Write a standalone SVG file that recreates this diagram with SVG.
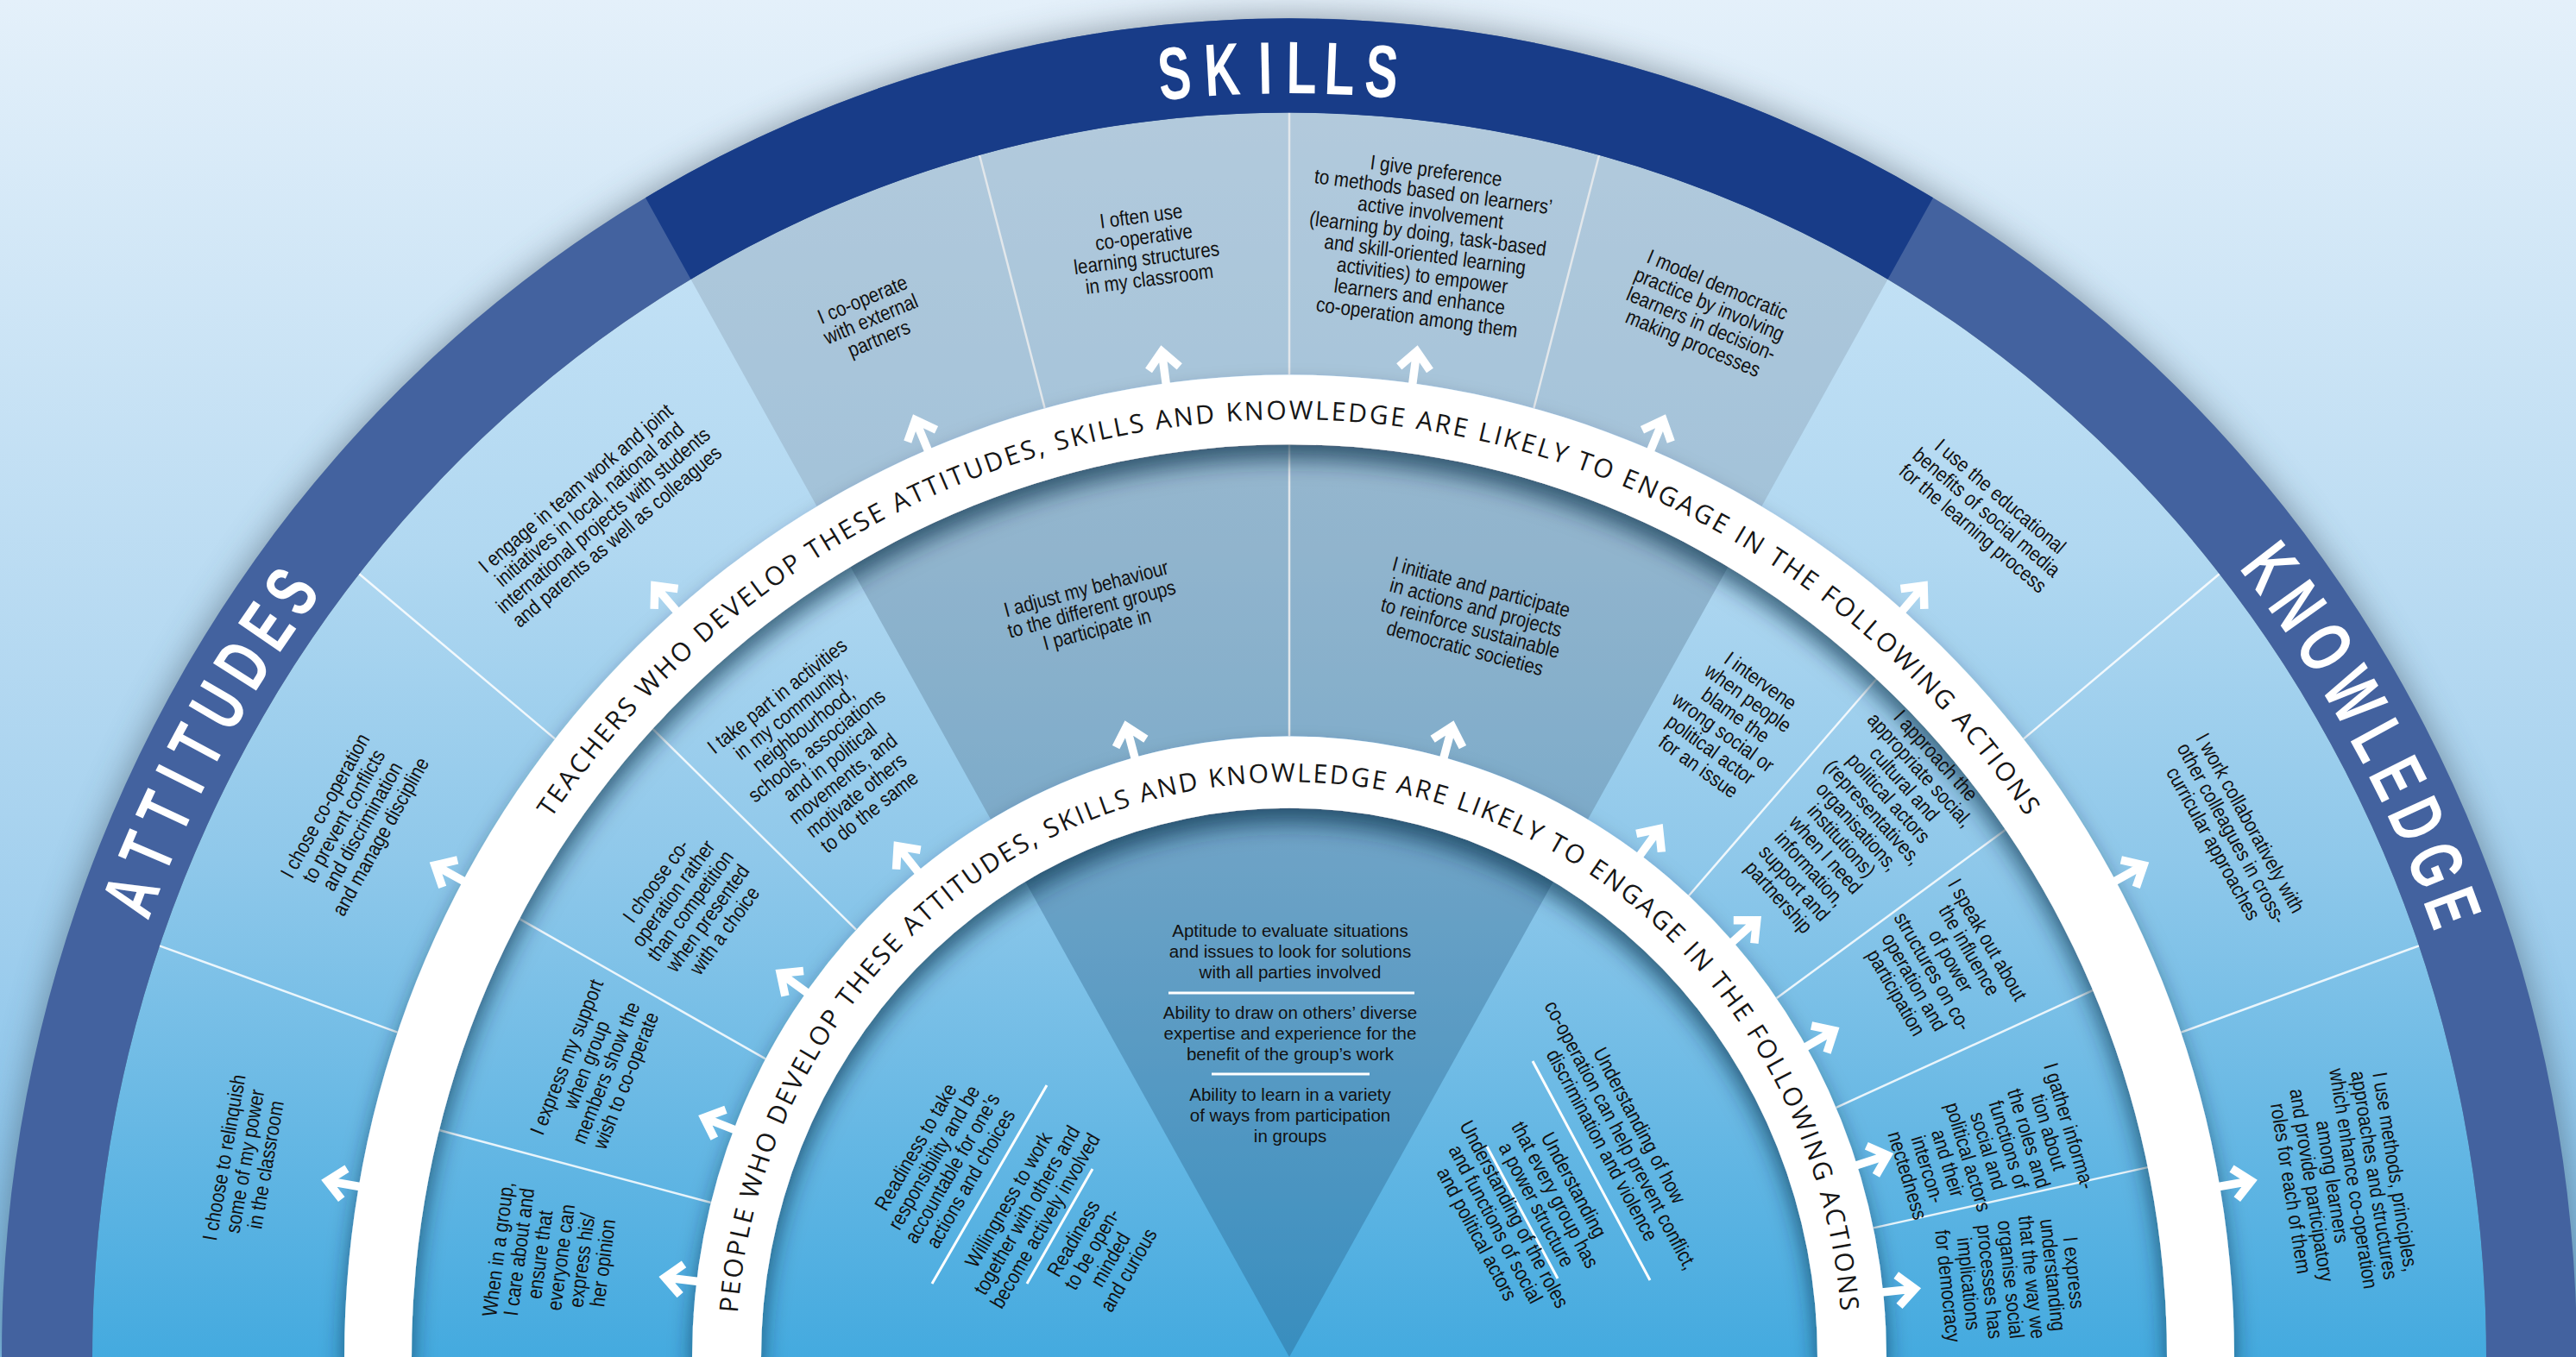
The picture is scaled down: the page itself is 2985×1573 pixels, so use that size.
<svg xmlns="http://www.w3.org/2000/svg" xmlns:xlink="http://www.w3.org/1999/xlink" width="2985" height="1573" viewBox="0 0 2985 1573">
<defs>
<style>
.t{font-family:"Liberation Sans",Arial,sans-serif;font-size:24px;fill:#111;text-anchor:middle}
.tc{font-family:"Liberation Sans",Arial,sans-serif;font-size:20.5px;fill:#111;text-anchor:middle}
.ring{font-family:"Open Sans","Liberation Sans",sans-serif;font-size:30px;fill:#161616}
.big{font-family:"Liberation Sans",Arial,sans-serif;font-size:86px;font-weight:bold;fill:#fff;text-anchor:middle}
.dl{stroke:#fff;stroke-width:2.5;stroke-opacity:.85;fill:none}
.dg{stroke:#e2e7eb;stroke-width:2.5;fill:none}
.sep{stroke:#fff;stroke-width:3;fill:none}
</style>
<linearGradient id="bg" x1="0" y1="0" x2="0" y2="1">
<stop offset="0" stop-color="#e4f0fa"/><stop offset="0.6" stop-color="#a9d3ef"/><stop offset="1" stop-color="#7cbde8"/>
</linearGradient>
<linearGradient id="base" gradientUnits="userSpaceOnUse" x1="0" y1="130" x2="0" y2="1573">
<stop offset="0" stop-color="#cbe5f7"/><stop offset="0.35" stop-color="#b1d8f1"/><stop offset="0.6" stop-color="#8fc8ea"/><stop offset="1" stop-color="#44aadf"/>
</linearGradient>
<filter id="halo" x="-5%" y="-8%" width="110%" height="116%"><feGaussianBlur stdDeviation="20"/></filter>
<filter id="ds" x="-5%" y="-10%" width="110%" height="125%">
<feGaussianBlur in="SourceAlpha" stdDeviation="13"/><feOffset dy="17" result="b"/>
<feFlood flood-color="#0b2842" flood-opacity="0.65"/><feComposite in2="b" operator="in"/>
<feMerge><feMergeNode/><feMergeNode in="SourceGraphic"/></feMerge>
</filter>
<g id="ar"><path d="M0,4 V-35 M-18,-17 L0,-37 L18,-17" fill="none" stroke="#fff" stroke-width="9.5"/></g>
<path id="p1" d="M449,1573 A1045,1086.8 0 0 1 2539,1573" fill="none"/>
<path id="p2" d="M853,1573 A641,666.6 0 0 1 2135,1573" fill="none"/>
</defs>

<rect width="2985" height="1573" fill="url(#bg)"/>
<path d="M2,1573 A1492,1551.7 0 0 1 2986,1573 Z" fill="#3e4b58" opacity="0.55" filter="url(#halo)"/>

<g id="base-fill">
<path d="M107,1573 A1387,1442.5 0 0 1 2881,1573 Z" fill="url(#base)"/>
<path d="M946.5,586.8 L800.5,323.8 A1387,1442.5 0 0 1 2187.5,323.8 L2041.5,586.8 A1095,1138.8 0 0 0 946.5,586.8 Z" fill="#7f93a4" opacity="0.32"/>
<path d="M1148,949.7 L985.5,657 A1017,1057.7 0 0 1 2002.5,657 L1840,949.7 A692,719.7 0 0 0 1148,949.7 Z" fill="#4f6b82" opacity="0.32"/>
<path d="M1494,1573 L1188,1021.8 A612,636.5 0 0 1 1800,1021.8 Z" fill="#1f4d73" opacity="0.3"/>
</g>

<g id="connectors">
<path class="dl" d="M460.5,1196.6 L184.9,1096.3 M643,856.4 L416.2,665.2 M2527.5,1196.6 L2803.1,1096.3 M2345,856.4 L2571.8,665.2"/>
<path class="dg" d="M1210.6,473 L1135,179.7 M1494,434.2 L1494,130.5 M1777.4,473 L1853,179.7 M1494,853.3 L1494,515.3"/>
<path class="dl" d="M823.7,1394 L508.9,1310 M887,1227.4 L602,1065.1 M992,1077.6 L756.3,844.9 M1957,1038.2 L2174.5,787 M2058.7,1157.1 L2324,961.8 M2127.7,1283.8 L2425.3,1147.9 M2170.9,1423.4 L2488.7,1353.1"/>
<path class="sep" d="M1354,1151 H1639 M1404,1245 H1587 M1080,1488 L1213,1258 M1190,1488 L1266,1355 M1776,1230 L1912,1484 M1723,1329 L1805,1482"/>
</g>

<g id="band">
<path d="M2,1573 A1492,1551.7 0 0 1 2986,1573 L2881,1573 A1387,1442.5 0 0 0 107,1573 Z" fill="#43629f"/>
<path d="M748,229.2 A1492,1551.7 0 0 1 2240,229.2 L2187.5,323.8 A1387,1442.5 0 0 0 800.5,323.8 Z" fill="#183c88"/>
</g>

<g id="rings" filter="url(#ds)">
<path d="M399,1573 A1095,1138.8 0 0 1 2589,1573 L2511,1573 A1017,1057.7 0 0 0 477,1573 Z" fill="#fff"/>
<path d="M802,1573 A692,719.7 0 0 1 2186,1573 L2106,1573 A612,636.5 0 0 0 882,1573 Z" fill="#fff"/>
</g>

<g id="ring-teachers"><text class="ring" letter-spacing="2.7"><textPath href="#p1" startOffset="50%" text-anchor="middle">TEACHERS WHO DEVELOP THESE ATTITUDES, SKILLS AND KNOWLEDGE ARE LIKELY TO ENGAGE IN THE FOLLOWING ACTIONS</textPath></text></g>
<g id="ring-people"><text class="ring" letter-spacing="2.4"><textPath href="#p2" startOffset="50%" text-anchor="middle">PEOPLE WHO DEVELOP THESE ATTITUDES, SKILLS AND KNOWLEDGE ARE LIKELY TO ENGAGE IN THE FOLLOWING ACTIONS</textPath></text></g>

<g id="label-skills">
<text class="big" transform="translate(1363.7,114.5) rotate(-5.3) scale(0.66,1)">S</text>
<text class="big" transform="translate(1417.7,110.4) rotate(-3.1) scale(0.66,1)">K</text>
<text class="big" transform="translate(1466.6,108.5) rotate(-1.1) scale(0.66,1)">I</text>
<text class="big" transform="translate(1507.8,108.2) rotate(0.56) scale(0.66,1)">L</text>
<text class="big" transform="translate(1551.4,109.4) rotate(2.33) scale(0.66,1)">L</text>
<text class="big" transform="translate(1598.8,112.3) rotate(4.26) scale(0.66,1)">S</text>
</g>
<g id="label-attitudes">
<text class="big" transform="translate(179,1048) rotate(-69) scale(0.68,1)">A</text>
<text class="big" transform="translate(198.1,999.2) rotate(-66.94) scale(0.68,1)">T</text>
<text class="big" transform="translate(217.7,953.7) rotate(-64.99) scale(0.68,1)">T</text>
<text class="big" transform="translate(235.1,916) rotate(-63.35) scale(0.68,1)">I</text>
<text class="big" transform="translate(253.8,878.9) rotate(-61.72) scale(0.68,1)">T</text>
<text class="big" transform="translate(278.6,833) rotate(-59.66) scale(0.68,1)">U</text>
<text class="big" transform="translate(306.1,785.9) rotate(-57.5) scale(0.68,1)">D</text>
<text class="big" transform="translate(333.6,742.9) rotate(-55.48) scale(0.68,1)">E</text>
<text class="big" transform="translate(361,703) rotate(-53.56) scale(0.68,1)">S</text>
</g>
<g id="label-knowledge">
<text class="big" transform="translate(2606.9,675.2) rotate(52.2) scale(0.68,1)">K</text>
<text class="big" transform="translate(2638.6,719.4) rotate(54.36) scale(0.68,1)">N</text>
<text class="big" transform="translate(2669.8,766.6) rotate(56.6) scale(0.68,1)">O</text>
<text class="big" transform="translate(2702.6,820.8) rotate(59.1) scale(0.68,1)">W</text>
<text class="big" transform="translate(2730.6,871.7) rotate(61.4) scale(0.68,1)">L</text>
<text class="big" transform="translate(2752.3,914.8) rotate(63.3) scale(0.68,1)">E</text>
<text class="big" transform="translate(2774.1,962) rotate(65.35) scale(0.68,1)">D</text>
<text class="big" transform="translate(2795.9,1013.6) rotate(67.55) scale(0.68,1)">G</text>
<text class="big" transform="translate(2814.2,1062.3) rotate(69.6) scale(0.68,1)">E</text>
</g>

<g id="arrows">
<use href="#ar" transform="translate(415.6,1375.3) rotate(-80)"/>
<use href="#ar" transform="translate(536.3,1020.9) rotate(-61)"/>
<use href="#ar" transform="translate(782.9,707.1) rotate(-40.5)"/>
<use href="#ar" transform="translate(1074.9,520.9) rotate(-22.5)"/>
<use href="#ar" transform="translate(1351.1,444) rotate(-7.5)"/>
<use href="#ar" transform="translate(1636.9,444) rotate(7.5)"/>
<use href="#ar" transform="translate(1913.1,520.9) rotate(22.5)"/>
<use href="#ar" transform="translate(2205.1,707.1) rotate(40.5)"/>
<use href="#ar" transform="translate(2451.7,1020.9) rotate(61)"/>
<use href="#ar" transform="translate(2572.4,1375.3) rotate(80)"/>
<use href="#ar" transform="translate(807.2,1485.3) rotate(-83)"/>
<use href="#ar" transform="translate(850.2,1309.2) rotate(-68.5)"/>
<use href="#ar" transform="translate(934.2,1150) rotate(-54)"/>
<use href="#ar" transform="translate(1063.2,1009.8) rotate(-38.5)"/>
<use href="#ar" transform="translate(1314.9,877.8) rotate(-15)"/>
<use href="#ar" transform="translate(1673.1,877.8) rotate(15)"/>
<use href="#ar" transform="translate(1900.8,990.8) rotate(36)"/>
<use href="#ar" transform="translate(2008.2,1091.4) rotate(48)"/>
<use href="#ar" transform="translate(2093.3,1213.1) rotate(60)"/>
<use href="#ar" transform="translate(2152.2,1350.6) rotate(72)"/>
<use href="#ar" transform="translate(2182.2,1497.8) rotate(84)"/>
</g>

<g id="n-relinquish" transform="translate(284,1346) rotate(-80) scale(0.86,1)"><text class="t"><tspan x="0" y="-16.5">I choose to relinquish</tspan><tspan x="0" y="8">some of my power</tspan><tspan x="0" y="32.5">in the classroom</tspan></text></g>
<g id="n-chose" transform="translate(409,952) rotate(-61) scale(0.86,1)"><text class="t"><tspan x="0" y="-28.75">I chose co-operation</tspan><tspan x="0" y="-4.25">to prevent conflicts</tspan><tspan x="0" y="20.25">and discrimination</tspan><tspan x="0" y="44.75">and manage discipline</tspan></text></g>
<g id="n-engage" transform="translate(691,594) rotate(-40.5) scale(0.86,1)"><text class="t"><tspan x="0" y="-28.75">I engage in team work and joint</tspan><tspan x="0" y="-4.25">initiatives in local, national and</tspan><tspan x="0" y="20.25">international projects with students</tspan><tspan x="0" y="44.75">and parents as well as colleagues</tspan></text></g>
<g id="n-external" transform="translate(1009,370) rotate(-22.7) scale(0.86,1)"><text class="t"><tspan x="0" y="-16.5">I co-operate</tspan><tspan x="0" y="8">with external</tspan><tspan x="0" y="32.5">partners</tspan></text></g>
<g id="n-oftenuse" transform="translate(1327,287) rotate(-7.5) scale(0.86,1)"><text class="t"><tspan x="0" y="-28.75">I often use</tspan><tspan x="0" y="-4.25">co-operative</tspan><tspan x="0" y="20.25">learning structures</tspan><tspan x="0" y="44.75">in my classroom</tspan></text></g>
<g id="n-preference" transform="translate(1653,283) rotate(7.5) scale(0.86,1)"><text class="t"><tspan x="0" y="-77.75">I give preference</tspan><tspan x="0" y="-53.25">to methods based on learners’</tspan><tspan x="0" y="-28.75">active involvement</tspan><tspan x="0" y="-4.25">(learning by doing, task-based</tspan><tspan x="0" y="20.25">and skill-oriented learning</tspan><tspan x="0" y="44.75">activities) to empower</tspan><tspan x="0" y="69.25">learners and enhance</tspan><tspan x="0" y="93.75">co-operation among them</tspan></text></g>
<g id="n-model" transform="translate(1976,364) rotate(22.7) scale(0.86,1)"><text class="t"><tspan x="0" y="-28.75">I model democratic</tspan><tspan x="0" y="-4.25">practice by involving</tspan><tspan x="0" y="20.25">learners in decision-</tspan><tspan x="0" y="44.75">making processes</tspan></text></g>
<g id="n-media" transform="translate(2302,594) rotate(40.5) scale(0.86,1)"><text class="t"><tspan x="0" y="-16.5">I use the educational</tspan><tspan x="0" y="8">benefits of social media</tspan><tspan x="0" y="32.5">for the learning process</tspan></text></g>
<g id="n-collab" transform="translate(2586,966) rotate(61) scale(0.86,1)"><text class="t"><tspan x="0" y="-16.5">I work collaboratively with</tspan><tspan x="0" y="8">other colleagues in cross-</tspan><tspan x="0" y="32.5">curricular approaches</tspan></text></g>
<g id="n-methods" transform="translate(2715,1368) rotate(81) scale(0.86,1)"><text class="t"><tspan x="0" y="-53.25">I use methods, principles,</tspan><tspan x="0" y="-28.75">approaches and structures</tspan><tspan x="0" y="-4.25">which enhance co-operation</tspan><tspan x="0" y="20.25">among learners</tspan><tspan x="0" y="44.75">and provide participatory</tspan><tspan x="0" y="69.25">roles for each of them</tspan></text></g>

<g id="n-group" transform="translate(638,1456) rotate(-82.5) scale(0.86,1)"><text class="t"><tspan x="0" y="-53.25">When in a group,</tspan><tspan x="0" y="-28.75">I care about and</tspan><tspan x="0" y="-4.25">ensure that</tspan><tspan x="0" y="20.25">everyone can</tspan><tspan x="0" y="44.75">express his/</tspan><tspan x="0" y="69.25">her opinion</tspan></text></g>
<g id="n-support" transform="translate(691,1239) rotate(-68.3) scale(0.86,1)"><text class="t"><tspan x="0" y="-28.75">I express my support</tspan><tspan x="0" y="-4.25">when group</tspan><tspan x="0" y="20.25">members show the</tspan><tspan x="0" y="44.75">wish to co-operate</tspan></text></g>
<g id="n-choose" transform="translate(800,1050) rotate(-54) scale(0.86,1)"><text class="t"><tspan x="0" y="-41">I choose co-</tspan><tspan x="0" y="-16.5">operation rather</tspan><tspan x="0" y="8">than competition</tspan><tspan x="0" y="32.5">when presented</tspan><tspan x="0" y="57">with a choice</tspan></text></g>
<g id="n-takepart" transform="translate(954,874) rotate(-38.5) scale(0.86,1)"><text class="t"><tspan x="0" y="-77.75">I take part in activities</tspan><tspan x="0" y="-53.25">in my community,</tspan><tspan x="0" y="-28.75">neighbourhood,</tspan><tspan x="0" y="-4.25">schools, associations</tspan><tspan x="0" y="20.25">and in political</tspan><tspan x="0" y="44.75">movements, and</tspan><tspan x="0" y="69.25">motivate others</tspan><tspan x="0" y="93.75">to do the same</tspan></text></g>
<g id="n-adjust" transform="translate(1265,706) rotate(-15) scale(0.86,1)"><text class="t"><tspan x="0" y="-16.5">I adjust my behaviour</tspan><tspan x="0" y="8">to the different groups</tspan><tspan x="0" y="32.5">I participate in</tspan></text></g>
<g id="n-initiate" transform="translate(1707,716) rotate(15) scale(0.86,1)"><text class="t"><tspan x="0" y="-28.75">I initiate and participate</tspan><tspan x="0" y="-4.25">in actions and projects</tspan><tspan x="0" y="20.25">to reinforce sustainable</tspan><tspan x="0" y="44.75">democratic societies</tspan></text></g>
<g id="n-intervene" transform="translate(2004,839) rotate(36) scale(0.86,1)"><text class="t"><tspan x="0" y="-53.25">I intervene</tspan><tspan x="0" y="-28.75">when people</tspan><tspan x="0" y="-4.25">blame the</tspan><tspan x="0" y="20.25">wrong social or</tspan><tspan x="0" y="44.75">political actor</tspan><tspan x="0" y="69.25">for an issue</tspan></text></g>
<g id="n-approach" transform="translate(2152,958) rotate(48) scale(0.86,1)"><text class="t"><tspan x="0" y="-114.5">I approach the</tspan><tspan x="0" y="-90">appropriate social,</tspan><tspan x="0" y="-65.5">cultural and</tspan><tspan x="0" y="-41">political actors</tspan><tspan x="0" y="-16.5">(representatives,</tspan><tspan x="0" y="8">organisations,</tspan><tspan x="0" y="32.5">institutions)</tspan><tspan x="0" y="57">when I need</tspan><tspan x="0" y="81.5">information,</tspan><tspan x="0" y="106">support and</tspan><tspan x="0" y="130.5">partnership</tspan></text></g>
<g id="n-speak" transform="translate(2250,1120) rotate(60) scale(0.86,1)"><text class="t"><tspan x="0" y="-53.25">I speak out about</tspan><tspan x="0" y="-28.75">the influence</tspan><tspan x="0" y="-4.25">of power</tspan><tspan x="0" y="20.25">structures on co-</tspan><tspan x="0" y="44.75">operation and</tspan><tspan x="0" y="69.25">participation</tspan></text></g>
<g id="n-gather" transform="translate(2304,1334) rotate(73) scale(0.86,1)"><text class="t"><tspan x="0" y="-90">I gather informa-</tspan><tspan x="0" y="-65.5">tion about</tspan><tspan x="0" y="-41">the roles and</tspan><tspan x="0" y="-16.5">functions of</tspan><tspan x="0" y="8">social and</tspan><tspan x="0" y="32.5">political actors</tspan><tspan x="0" y="57">and their</tspan><tspan x="0" y="81.5">intercon-</tspan><tspan x="0" y="106">nectedness</tspan></text></g>
<g id="n-express" transform="translate(2330,1483) rotate(84) scale(0.86,1)"><text class="t"><tspan x="0" y="-65.5">I express</tspan><tspan x="0" y="-41">understanding</tspan><tspan x="0" y="-16.5">that the way we</tspan><tspan x="0" y="8">organise social</tspan><tspan x="0" y="32.5">processes has</tspan><tspan x="0" y="57">implications</tspan><tspan x="0" y="81.5">for democracy</tspan></text></g>

<g id="n-skills-core"><text class="tc"><tspan x="1495" y="1086">Aptitude to evaluate situations</tspan><tspan x="1495" y="1110">and issues to look for solutions</tspan><tspan x="1495" y="1134">with all parties involved</tspan><tspan x="1495" y="1181">Ability to draw on others’ diverse</tspan><tspan x="1495" y="1205">expertise and experience for the</tspan><tspan x="1495" y="1229">benefit of the group’s work</tspan><tspan x="1495" y="1276">Ability to learn in a variety</tspan><tspan x="1495" y="1300">of ways from participation</tspan><tspan x="1495" y="1324">in groups</tspan></text></g>
<g id="n-att-core1" transform="translate(1093,1348) rotate(-60) scale(0.86,1)"><text class="t"><tspan x="0" y="-28.75">Readiness to take</tspan><tspan x="0" y="-4.25">responsibility and be</tspan><tspan x="0" y="20.25">accountable for one’s</tspan><tspan x="0" y="44.75">actions and choices</tspan></text></g>
<g id="n-att-core2" transform="translate(1190,1403) rotate(-60) scale(0.86,1)"><text class="t"><tspan x="0" y="-16.5">Willingness to work</tspan><tspan x="0" y="8">together with others and</tspan><tspan x="0" y="32.5">become actively involved</tspan></text></g>
<g id="n-att-core3" transform="translate(1276,1454) rotate(-60) scale(0.86,1)"><text class="t"><tspan x="0" y="-28.75">Readiness</tspan><tspan x="0" y="-4.25">to be open-</tspan><tspan x="0" y="20.25">minded</tspan><tspan x="0" y="44.75">and curious</tspan></text></g>
<g id="n-know-core1" transform="translate(1878,1316) rotate(62) scale(0.86,1)"><text class="t"><tspan x="0" y="-16.5">Understanding of how</tspan><tspan x="0" y="8">co-operation can help prevent conflict,</tspan><tspan x="0" y="32.5">discrimination and violence</tspan></text></g>
<g id="n-know-core2" transform="translate(1802,1385) rotate(62) scale(0.86,1)"><text class="t"><tspan x="0" y="-16.5">Understanding</tspan><tspan x="0" y="8">that every group has</tspan><tspan x="0" y="32.5">a power structure</tspan></text></g>
<g id="n-know-core3" transform="translate(1733,1419) rotate(62) scale(0.86,1)"><text class="t"><tspan x="0" y="-16.5">Understanding of the roles</tspan><tspan x="0" y="8">and functions of social</tspan><tspan x="0" y="32.5">and political actors</tspan></text></g>
</svg>
